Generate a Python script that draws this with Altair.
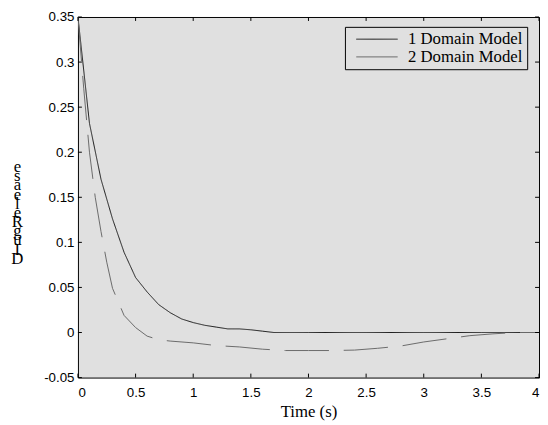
import altair as alt
import pandas as pd

# Series data
t_one = [0, 0.1, 0.2, 0.3, 0.4, 0.5, 0.6, 0.7, 0.8, 0.9, 1.0, 1.1, 1.2, 1.3, 1.4, 1.5, 1.6, 1.7, 2.0, 2.5, 3.0, 3.5, 4.0]
y_one = [0.35, 0.232, 0.17, 0.126, 0.089, 0.061, 0.045, 0.031, 0.022, 0.015, 0.011, 0.008, 0.006, 0.004, 0.004, 0.003, 0.0015, 0, 0, 0, 0, 0, 0]

t_two = [0, 0.05, 0.1, 0.15, 0.2, 0.25, 0.3, 0.35, 0.4, 0.5, 0.6, 0.7, 0.8, 1.0, 1.2, 1.4, 1.6, 1.8, 2.0, 2.2, 2.4, 2.6, 2.8, 3.0, 3.2, 3.4, 3.6, 3.8, 4.0]
y_two = [0.35, 0.271, 0.2, 0.15, 0.112, 0.078, 0.049, 0.034, 0.019, 0.0055, -0.004, -0.008, -0.0095, -0.0115, -0.0145, -0.016, -0.0185, -0.02, -0.02, -0.02, -0.0195, -0.0175, -0.015, -0.0105, -0.007, -0.0035, -0.0015, 0, 0]

series_names = ["1 Domain Model", "2 Domain Model"]
x_ticks = [0, 0.5, 1, 1.5, 2, 2.5, 3, 3.5, 4]
y_ticks = [-0.05, 0, 0.05, 0.1, 0.15, 0.2, 0.25, 0.3, 0.35]
y_title_letters = ["e", "s", "a", "e", "l", "e", "R", "g", "u", "I", "D"]

rows = [{"time": t, "value": v, "model": series_names[0]} for t, v in zip(t_one, y_one)]
rows += [{"time": t, "value": v, "model": series_names[1]} for t, v in zip(t_two, y_two)]
df = pd.DataFrame(rows)

W, H = 468, 366
xscale = alt.Scale(domain=[0, 4], nice=False, zero=False)
yscale = alt.Scale(domain=[-0.05, 0.35], nice=False, zero=False)

legend_cfg = dict(orient="none", legendX=271, legendY=10,
                  symbolType="M-5,0H5", symbolSize=70.56,
                  symbolStrokeWidth=1, labelFont="Liberation Serif",
                  labelFontSize=17, labelColor="#000", labelOffset=23,
                  padding=4, rowPadding=0, strokeColor="#000",
                  fillColor="#e0e0e0", symbolOffset=20)

lines = alt.Chart(df).mark_line(strokeWidth=1, clip=True).encode(
    x=alt.X("time:Q", scale=xscale, title="Time (s)",
            axis=alt.Axis(values=x_ticks, ticks=False, domain=False, grid=False,
                          labelExpr="datum.value + ''", labelFont="Liberation Sans",
                          labelFontSize=13.5, labelColor="#000", labelPadding=8,
                          titleFont="Liberation Serif", titleFontSize=17,
                          titleFontWeight="normal", titleColor="#000", titlePadding=5)),
    y=alt.Y("value:Q", scale=yscale, title=y_title_letters,
            axis=alt.Axis(values=y_ticks, ticks=False, domain=False, grid=False,
                          labelExpr="datum.value + ''", labelFont="Liberation Sans",
                          labelFontSize=13.5, labelColor="#000", labelPadding=4,
                          titleFont="Liberation Serif", titleFontSize=17,
                          titleFontWeight="normal", titleColor="#000",
                          titleAngle=0, titleLineHeight=9.3, titleAlign="center",
                          titleBaseline="top", titleX=-62, titleY=144)),
    color=alt.Color("model:N", title=None,
                    scale=alt.Scale(domain=series_names, range=["#1a1a1a", "#6a6a6a"]),
                    legend=alt.Legend(**legend_cfg)),
    strokeDash=alt.StrokeDash("model:N", title=None,
                              scale=alt.Scale(domain=series_names, range=[[1, 0], [45, 15]]),
                              legend=alt.Legend(**legend_cfg)),
)

xt = pd.DataFrame({"time": x_ticks})
yt = pd.DataFrame({"value": y_ticks})
tick_len = 4
bottom = alt.Chart(xt).mark_rule(color="#000", strokeWidth=1).encode(
    x=alt.X("time:Q", scale=xscale), y=alt.value(H), y2=alt.value(H - tick_len))
top = alt.Chart(xt).mark_rule(color="#000", strokeWidth=1).encode(
    x=alt.X("time:Q", scale=xscale), y=alt.value(0), y2=alt.value(tick_len))
left = alt.Chart(yt).mark_rule(color="#000", strokeWidth=1).encode(
    y=alt.Y("value:Q", scale=yscale), x=alt.value(0), x2=alt.value(tick_len))
right = alt.Chart(yt).mark_rule(color="#000", strokeWidth=1).encode(
    y=alt.Y("value:Q", scale=yscale), x=alt.value(W), x2=alt.value(W - tick_len))

chart = alt.layer(lines, bottom, top, left, right).properties(
    width=W, height=H,
    autosize=alt.AutoSizeParams(type="none"),
    padding={"left": 71, "top": 6, "right": 1, "bottom": 45},
    background="#ffffff",
).configure_view(
    fill="#e0e0e0", stroke="#000", strokeWidth=1
)

chart.save("out.html", embed_options={"renderer": "svg", "actions": False})
